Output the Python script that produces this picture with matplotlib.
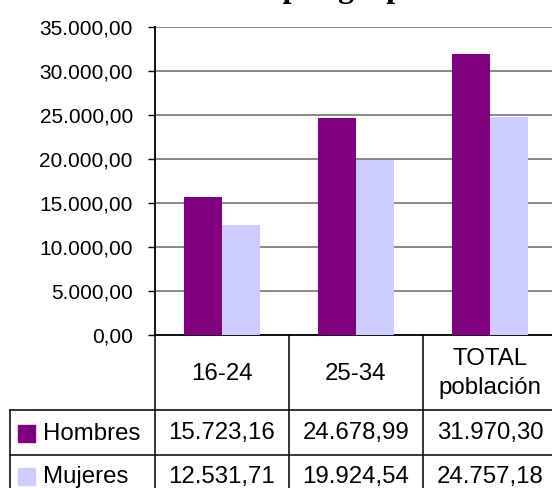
import matplotlib.pyplot as plt
import numpy as np

plt.rcParams['font.family'] = ['Liberation Sans', 'DejaVu Sans']

categorias = ['16-24', '25-34', 'TOTAL\npoblación']
series = ['Hombres', 'Mujeres']
hombres = [15723.16, 24678.99, 31970.30]
mujeres = [12531.71, 19924.54, 24757.18]
colores = ['#800080', '#CCCCFF']
yticks = np.arange(0, 35001, 5000)


def fmt(v):
    # formato español: 12.345,67
    s = f"{v:,.2f}"
    return s.replace(',', '#').replace('.', ',').replace('#', '.')


W, H = 552, 488
fig = plt.figure(figsize=(W / 100, H / 100), dpi=100)

# zona del grafico (en pixeles)
x0, x1 = 155, 557
ytop, ybot = 27, 335
ax = fig.add_axes([x0 / W, 1 - ybot / H, (x1 - x0) / W, (ybot - ytop) / H])

n = len(categorias)
ancho = 0.285
pos = np.arange(n) + 0.5
ax.bar(pos - ancho, hombres, ancho, align='edge', color=colores[0], zorder=3)
ax.bar(pos, mujeres, ancho, align='edge', color=colores[1], zorder=3)

ax.set_xlim(0, n)
ax.set_ylim(0, 35000)
ax.set_yticks(yticks)
ax.set_yticklabels([fmt(v) for v in yticks], fontsize=15)
ax.set_xticks([])
ax.yaxis.grid(True, color='#808080', lw=1.3, zorder=0)
ax.tick_params(axis='y', direction='out', length=5, width=1, pad=11, color='black')
for s in ['top', 'right']:
    ax.spines[s].set_visible(False)
ax.spines['left'].set_linewidth(1.3)
ax.spines['bottom'].set_linewidth(1.3)

# tabla de datos debajo del grafico
tx = fig.add_axes([0, 0, 1, 1], facecolor='none')
tx.set_xlim(0, W)
tx.set_ylim(H, 0)
tx.axis('off')

cols = x0 + (x1 - x0) / n * np.arange(n + 1)
fila_cab = (ybot, 410)
filas = [(410, 455), (455, 500)]
xleft = 10
fs = 17.3

for c in cols:
    tx.plot([c, c], [ybot, H + 5], color='black', lw=1.1)
tx.plot([xleft, xleft], [filas[0][0], H + 5], color='black', lw=1.1)
for f in filas:
    tx.plot([xleft, W + 5], [f[0], f[0]], color='black', lw=1.1)

for i, cat in enumerate(categorias):
    cx = (cols[i] + cols[i + 1]) / 2
    tx.text(cx, sum(fila_cab) / 2 + 1, cat, ha='center', va='center',
            fontsize=fs, linespacing=1.45)

for (ya, yb), nombre, vals, col in zip(filas, series, [hombres, mujeres], colores):
    cy = (ya + yb) / 2 + (1 if ya == 410 else -1)
    tx.add_patch(plt.Rectangle((18, cy - 8.5), 17, 17, color=col))
    tx.text(43, cy, nombre, ha='left', va='center', fontsize=fs)
    for i, v in enumerate(vals):
        cx = (cols[i] + cols[i + 1]) / 2
        tx.text(cx, cy, fmt(v), ha='center', va='center', fontsize=fs)

# titulo (queda cortado por arriba, como en el original)
fig.text(309 / W, 1 + 3 / H, 'Salario medio por grupo de edad', ha='center',
         va='baseline', fontsize=23, fontweight='bold',
         family=['Liberation Serif', 'DejaVu Serif'])

fig.savefig('out.png', dpi=100)
